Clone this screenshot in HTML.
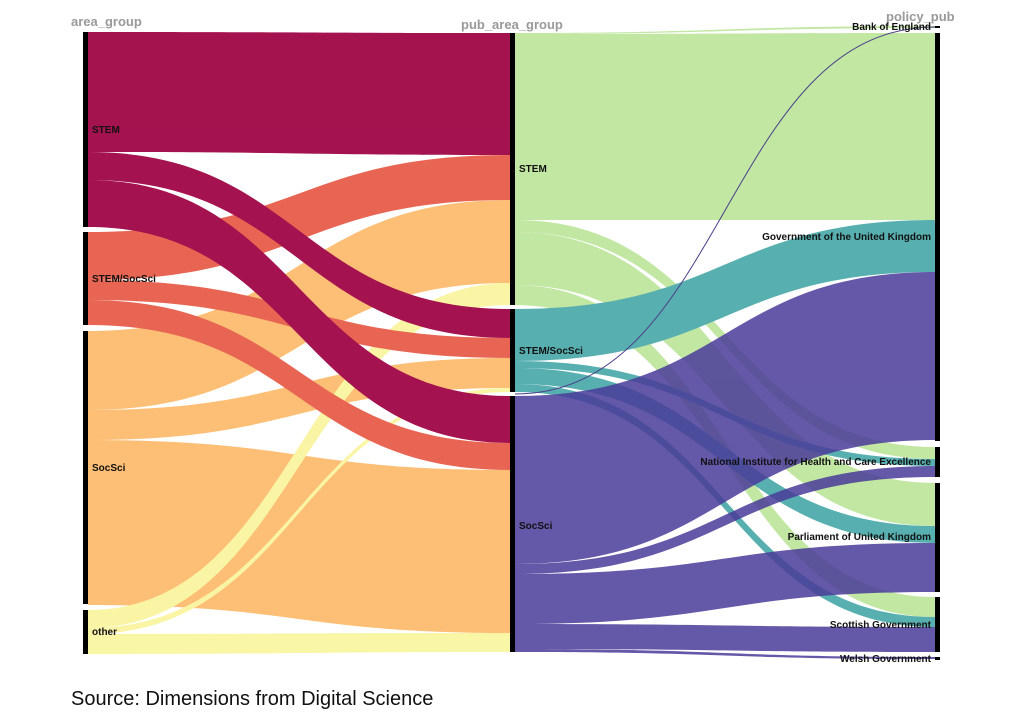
<!DOCTYPE html>
<html><head><meta charset="utf-8"><style>
body{margin:0;background:#fff;}
svg{display:block}
text{font-family:"Liberation Sans",sans-serif;}
.l{font-size:10px;font-weight:bold;fill:#111}
.h{font-size:13px;font-weight:bold;fill:#999}
</style></head><body>
<svg width="1024" height="717" viewBox="0 0 1024 717" xmlns="http://www.w3.org/2000/svg">
<g opacity="0.93">
<path fill="#fdbb6c" d="M88,331 C299,331 299,200 510,200 L510,283 C299,283 299,410 88,410Z"/>
<path fill="#fdbb6c" d="M88,440 C299,440 299,470 510,470 L510,633 C299,633 299,605 88,605Z"/>
<path fill="#fdbb6c" d="M88,410 C299,410 299,358 510,358 L510,388 C299,388 299,440 88,440Z"/>
<path fill="#f9f59f" d="M88,610 C299,610 299,283 510,283 L510,305 C299,305 299,628 88,628Z"/>
<path fill="#f9f59f" d="M88,628 C299,628 299,388 510,388 L510,392 C299,392 299,634 88,634Z"/>
<path fill="#f9f59f" d="M88,634 C299,634 299,633 510,633 L510,652 C299,652 299,654 88,654Z"/>
<path fill="#e65a45" d="M88,232 C299,232 299,155 510,155 L510,200 C299,200 299,280 88,280Z"/>
<path fill="#e65a45" d="M88,280 C299,280 299,338 510,338 L510,358 C299,358 299,300 88,300Z"/>
<path fill="#e65a45" d="M88,300 C299,300 299,443 510,443 L510,470 C299,470 299,325 88,325Z"/>
<path fill="#9e0142" d="M88,32 C299,32 299,33 510,33 L510,155 C299,155 299,152 88,152Z"/>
<path fill="#9e0142" d="M88,152 C299,152 299,309 510,309 L510,338 C299,338 299,180 88,180Z"/>
<path fill="#9e0142" d="M88,180 C299,180 299,396 510,396 L510,443 C299,443 299,227 88,227Z"/>
</g>
<g opacity="0.92">
<path fill="#bde59c" d="M515,33 C725,33 725,26 935,26 L935,28 C725,28 725,34 515,34Z"/>
<path fill="#bde59c" d="M515,34 C725,34 725,33 935,33 L935,220 C725,220 725,220 515,220Z"/>
<path fill="#bde59c" d="M515,220 C725,220 725,447 935,447 L935,459 C725,459 725,232 515,232Z"/>
<path fill="#bde59c" d="M515,232 C725,232 725,483 935,483 L935,526 C725,526 725,285 515,285Z"/>
<path fill="#bde59c" d="M515,285 C725,285 725,597 935,597 L935,617 C725,617 725,305 515,305Z"/>
<path fill="#4aa9a9" d="M515,309 C725,309 725,220 935,220 L935,272 C725,272 725,361 515,361Z"/>
<path fill="#4aa9a9" d="M515,361 C725,361 725,459 935,459 L935,466 C725,466 725,368 515,368Z"/>
<path fill="#4aa9a9" d="M515,368 C725,368 725,526 935,526 L935,543 C725,543 725,384 515,384Z"/>
<path fill="#4aa9a9" d="M515,384 C725,384 725,617 935,617 L935,627 C725,627 725,392 515,392Z"/>
</g>
<g opacity="0.85">
<path fill="#4a3b9a" d="M515,396 C725,396 725,272 935,272 L935,440 C725,440 725,564 515,564Z"/>
<path fill="#4a3b9a" d="M515,564 C725,564 725,466 935,466 L935,477 C725,477 725,574 515,574Z"/>
<path fill="#4a3b9a" d="M515,574 C725,574 725,543 935,543 L935,592 C725,592 725,624 515,624Z"/>
<path fill="#4a3b9a" d="M515,624 C725,624 725,627 935,627 L935,652 C725,652 725,649 515,649Z"/>
<path fill="#4a3b9a" d="M515,649 C725,649 725,657 935,657 L935,659 C725,659 725,652 515,652Z"/>
</g>
<path d="M515,394 C725,394 725,27 935,27" fill="none" stroke="#4a3f8a" stroke-width="1"/>
<rect x="83" y="32" width="5" height="195" fill="#000"/>
<rect x="83" y="232" width="5" height="93" fill="#000"/>
<rect x="83" y="331" width="5" height="273" fill="#000"/>
<rect x="83" y="610" width="5" height="44" fill="#000"/>
<rect x="510" y="33" width="5" height="272" fill="#000"/>
<rect x="510" y="309" width="5" height="83" fill="#000"/>
<rect x="510" y="396" width="5" height="256" fill="#000"/>
<rect x="935" y="26" width="5" height="2" fill="#000"/>
<rect x="935" y="33" width="5" height="408" fill="#000"/>
<rect x="935" y="447" width="5" height="30" fill="#000"/>
<rect x="935" y="483" width="5" height="109" fill="#000"/>
<rect x="935" y="597" width="5" height="55" fill="#000"/>
<rect x="935" y="657" width="5" height="3" fill="#000"/>
<text class="h" x="71" y="26">area_group</text>
<text class="h" x="461" y="29">pub_area_group</text>
<text class="h" x="886" y="21">policy_pub</text>
<text class="l" x="92" y="133">STEM</text>
<text class="l" x="92" y="282">STEM/SocSci</text>
<text class="l" x="92" y="471">SocSci</text>
<text class="l" x="92" y="635">other</text>
<text class="l" x="519" y="172">STEM</text>
<text class="l" x="519" y="354">STEM/SocSci</text>
<text class="l" x="519" y="529">SocSci</text>
<g text-anchor="end">
<text class="l" x="931" y="30">Bank of England</text>
<text class="l" x="931" y="240">Government of the United Kingdom</text>
<text class="l" x="931" y="465">National Institute for Health and Care Excellence</text>
<text class="l" x="931" y="540">Parliament of United Kingdom</text>
<text class="l" x="931" y="628">Scottish Government</text>
<text class="l" x="931" y="662">Welsh Government</text>
</g>
<text x="71" y="705" style="font-size:20px;fill:#111">Source: Dimensions from Digital Science</text>
</svg>
</body></html>
